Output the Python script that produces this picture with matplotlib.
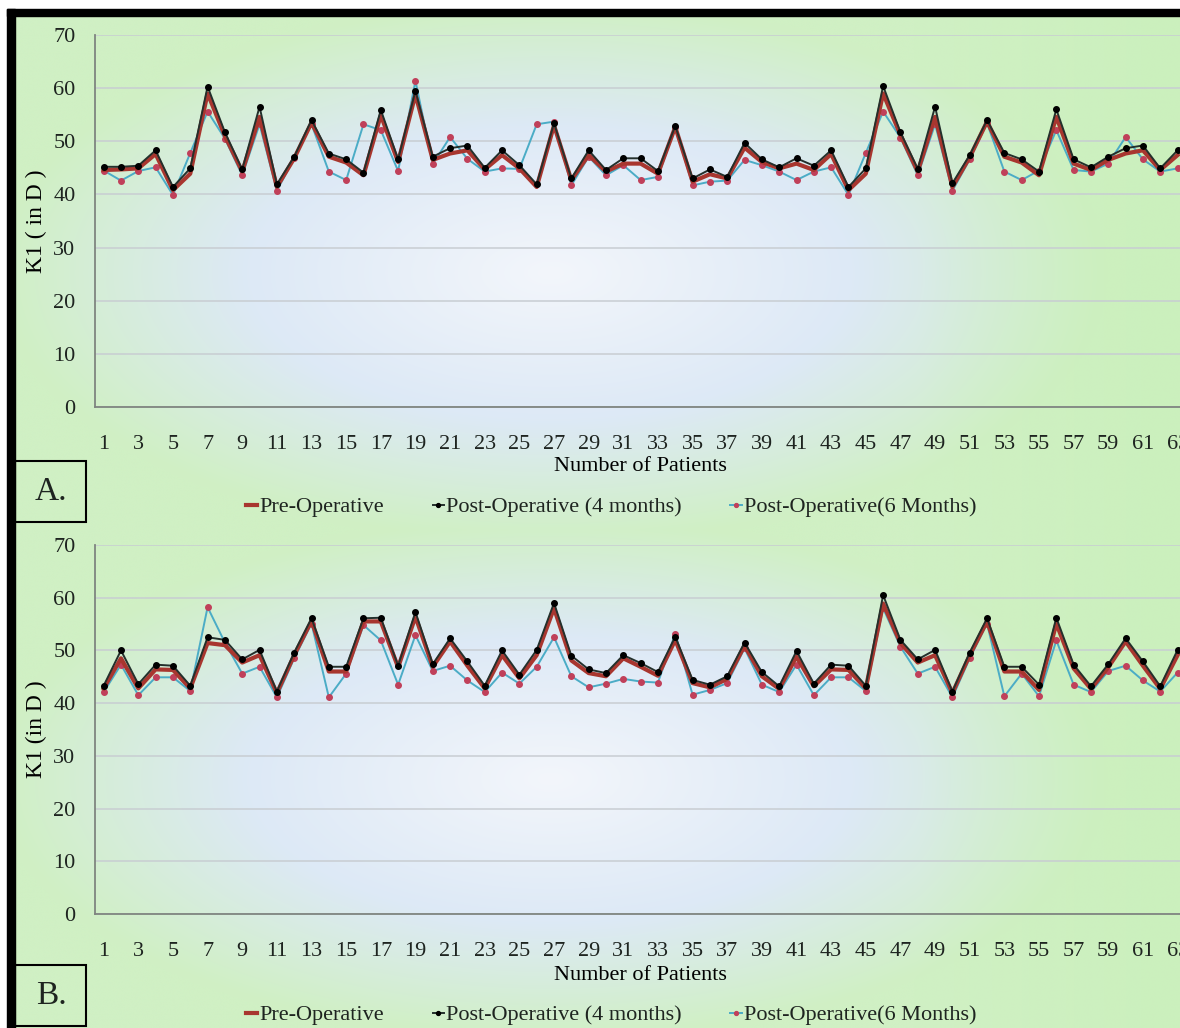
import matplotlib
matplotlib.use("Agg")
import matplotlib.pyplot as plt
from matplotlib import rcParams
from matplotlib.patches import Rectangle
import numpy as np

patients = list(range(1, 64))
tick_labels = [str(p) for p in patients[::2]]

# panel A
pre_a = [44.6, 44.7, 44.9, 47.6, 40.8, 43.9, 59.0, 51.0, 44.3, 54.6,
         41.4, 46.8, 53.5, 47.1, 46.0, 43.6, 54.9, 46.1, 58.8, 46.5,
         47.7, 48.3, 44.7, 47.4, 44.9, 41.4, 53.0, 42.7, 47.4, 44.3,
         45.8, 45.8, 43.9, 52.7, 42.4, 43.8, 43.0, 48.8, 46.1, 44.9,
         45.8, 44.6, 47.6, 40.8, 43.9, 59.0, 51.2, 44.3, 54.6, 41.4,
         47.0, 53.7, 47.1, 46.0, 43.6, 54.6, 45.8, 44.6, 46.5, 47.7,
         48.3, 44.6, 47.4]
post4_a = [45.2, 45.2, 45.4, 48.3, 41.4, 44.9, 60.3, 51.7, 44.7, 56.5,
           41.9, 47.1, 54.0, 47.7, 46.6, 44.1, 55.9, 46.6, 59.5, 47.1,
           48.7, 49.2, 45.0, 48.3, 45.5, 41.9, 53.4, 43.0, 48.3, 44.6,
           46.8, 46.8, 44.4, 52.9, 43.0, 44.7, 43.3, 49.7, 46.6, 45.1,
           46.8, 45.4, 48.3, 41.4, 44.9, 60.4, 51.7, 44.8, 56.5, 42.1,
           47.4, 54.0, 47.8, 46.6, 44.3, 56.0, 46.6, 45.1, 47.1, 48.7,
           49.2, 44.9, 48.3]
post6_a = [44.5, 42.6, 44.4, 45.1, 39.9, 47.8, 55.6, 50.5, 43.6, 53.2,
           40.7, 46.8, 53.2, 44.3, 42.7, 53.2, 52.1, 44.4, 61.4, 45.7,
           50.8, 46.7, 44.3, 44.9, 44.8, 53.2, 53.7, 41.7, 47.1, 43.6,
           45.5, 42.7, 43.3, 52.7, 41.7, 42.4, 42.6, 46.5, 45.5, 44.3,
           42.7, 44.3, 45.1, 39.9, 47.8, 55.6, 50.7, 43.6, 53.2, 40.7,
           46.6, 53.4, 44.3, 42.7, 44.5, 52.1, 44.6, 44.3, 45.8, 50.8,
           46.6, 44.3, 44.9]

# panel B
pre_b = [42.8, 48.5, 42.8, 46.4, 46.3, 42.8, 51.4, 51.0, 47.7, 49.1,
         41.9, 49.1, 55.6, 46.0, 46.0, 55.5, 55.5, 46.8, 56.4, 46.9,
         51.7, 47.1, 42.8, 49.1, 44.7, 49.1, 58.0, 48.1, 45.7, 45.1,
         48.5, 46.9, 45.2, 52.0, 43.8, 43.0, 44.6, 50.9, 45.1, 42.7,
         48.8, 43.2, 46.4, 46.3, 42.8, 58.9, 51.4, 47.7, 49.1, 41.9,
         49.1, 55.5, 46.0, 46.0, 42.5, 55.1, 46.6, 42.7, 46.8, 51.7,
         47.1, 42.7, 49.1]
post4_b = [43.3, 50.0, 43.6, 47.3, 47.1, 43.3, 52.5, 52.0, 48.3, 50.1,
           42.2, 49.6, 56.1, 46.9, 46.9, 56.1, 56.2, 47.1, 57.3, 47.4,
           52.3, 47.9, 43.3, 50.0, 45.4, 50.1, 59.0, 49.0, 46.4, 45.7,
           49.1, 47.6, 45.9, 52.6, 44.4, 43.5, 45.1, 51.5, 45.9, 43.2,
           49.9, 43.7, 47.3, 47.1, 43.3, 60.5, 52.0, 48.3, 50.1, 42.2,
           49.6, 56.1, 46.9, 46.9, 43.5, 56.2, 47.3, 43.2, 47.4, 52.3,
           47.9, 43.2, 50.1]
post6_b = [42.1, 47.3, 41.5, 44.9, 44.9, 42.3, 58.2, 51.5, 45.6, 46.9,
           41.1, 48.5, 55.1, 41.1, 45.6, 54.8, 51.9, 43.5, 52.9, 46.1,
           47.1, 44.3, 42.1, 45.8, 43.7, 46.9, 52.5, 45.1, 43.0, 43.7,
           44.6, 44.1, 43.9, 53.2, 41.6, 42.5, 43.8, 50.4, 43.5, 42.1,
           47.3, 41.5, 44.9, 44.9, 42.3, 58.0, 50.7, 45.6, 46.9, 41.1,
           48.5, 55.1, 41.3, 45.6, 41.3, 51.9, 43.5, 42.1, 46.1, 47.1,
           44.3, 42.2, 45.8]

rcParams.update({
    "font.family": ["Liberation Serif", "DejaVu Serif"],
    "font.size": 16,
    "text.color": "#1e2420",
    "xtick.color": "#1e2420",
    "ytick.color": "#1e2420",
})

W, H = 1180, 1028
fig = plt.figure(figsize=(W / 100, H / 100), dpi=100)
fig.patch.set_facecolor("white")


def gradient(nx=400, ny=200):
    x = np.linspace(-1, 1, nx)
    y = np.linspace(-1, 1, ny)
    X, Y = np.meshgrid(x, y)
    d = np.sqrt(((X + 0.08) / 0.95) ** 2 + (Y / 1.05) ** 2)
    t = np.clip(d, 0, 1)[..., None]
    center = np.array([243, 246, 251]) / 255
    mid = np.array([221, 233, 246]) / 255
    edge = np.array([208, 240, 196]) / 255
    a = np.clip(t / 0.55, 0, 1)
    b = np.clip((t - 0.55) / 0.45, 0, 1)
    img = center * (1 - a) + mid * a
    img = img * (1 - b) + edge * b
    # right side gets a bit more green
    right = np.clip((X - 0.55) / 0.45, 0, 1)[..., None]
    img = img * (1 - 0.5 * right) + np.array([198, 240, 182]) / 255 * 0.5 * right
    return img


def px(x0, y0, x1, y1):
    # pixel box (top-left origin) -> figure fraction rect
    return [x0 / W, 1 - y1 / H, (x1 - x0) / W, (y1 - y0) / H]


def background(y0, y1):
    bg = fig.add_axes(px(15, y0, W, y1), zorder=-5)
    bg.imshow(gradient(), aspect="auto", extent=[0, 1, 0, 1], interpolation="bicubic")
    bg.set_axis_off()


def panel(top, bottom, pre, post4, post6, ylab, letter, box_top, leg_y, xlab_y):
    ax = fig.add_axes(px(95, top, W, bottom))
    ax.patch.set_visible(False)
    ax.plot(patients, post6, color="#4bacc6", lw=1.4, marker="o", ms=4,
            mfc="#c0405a", mec="#c0405a", zorder=3, label="Post-Operative(6 Months)")
    ax.plot(patients, pre, color="#a8362f", lw=3, zorder=4, label="Pre-Operative")
    ax.plot(patients, post4, color="#24302c", lw=1.4, marker="o", ms=4,
            mfc="black", mec="black", zorder=5, label="Post-Operative (4 months)")

    ax.set_ylim(0, 70)
    ax.set_yticks(range(0, 71, 10))
    ax.set_xlim(0.5, 63.14)
    ax.set_xticks(patients[::2])
    ax.set_xticklabels(tick_labels)
    ax.grid(axis="y", color="#c8cdd2", lw=1.1)
    ax.set_axisbelow(True)
    for s in ["top", "right"]:
        ax.spines[s].set_visible(False)
    for s in ["left", "bottom"]:
        ax.spines[s].set_color("#7f8580")
        ax.spines[s].set_linewidth(1.3)
    ax.tick_params(axis="both", length=0)
    ax.tick_params(axis="y", pad=14)
    ax.tick_params(axis="x", pad=20)

    hgt = bottom - top
    ax.set_ylabel(ylab, fontsize=17)
    ax.yaxis.set_label_coords(-59 / (W - 95), 0.5)
    ax.yaxis.label.set_va("center")
    ax.set_xlabel("Number of Patients")
    ax.xaxis.set_label_coords((640 - 95) / (W - 95), -(xlab_y - bottom) / hgt)
    ax.xaxis.label.set_va("center")

    h = ax.get_legend_handles_labels()[0]
    ax.legend([h[1], h[2], h[0]],
              ["Pre-Operative", "Post-Operative (4 months)", "Post-Operative(6 Months)"],
              loc="center", bbox_to_anchor=(611 / W, 1 - leg_y / H),
              bbox_transform=fig.transFigure, ncol=3, frameon=False,
              handlelength=0.5, handletextpad=0.1, columnspacing=2.2,
              markerscale=0.7)

    fig.patches.append(Rectangle((15 / W, 1 - (box_top + 61) / H), 71 / W, 61 / H,
                                 transform=fig.transFigure, fill=False,
                                 ec="black", lw=1.5, zorder=10))
    fig.text(51 / W, 1 - (box_top + 31) / H, letter, fontsize=24,
             ha="center", va="center")
    return ax


background(16, 530)
background(530, H)

panel(35, 407, pre_a, post4_a, post6_a, "K1 ( in D )", "A.", 461, 507, 467)
panel(545, 914, pre_b, post4_b, post6_b, "K1 (in D )", "B.", 965, 1015, 976)

# black frame on top and left
fig.patches.append(Rectangle((7 / W, 1 - 16 / H), 1, 7 / H, transform=fig.transFigure,
                             color="black", zorder=20))
fig.patches.append(Rectangle((7 / W, 0), 8 / W, 1 - 9 / H, transform=fig.transFigure,
                             color="black", zorder=20))

fig.savefig("out.png", dpi=100)
